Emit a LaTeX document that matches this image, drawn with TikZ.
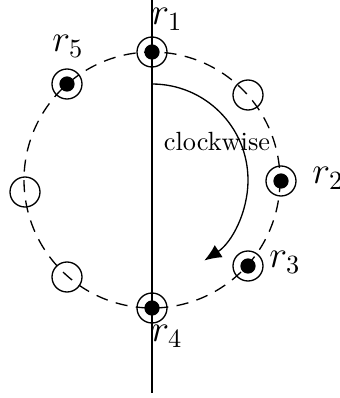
\documentclass[tikz,border=0pt]{standalone}
\usetikzlibrary{arrows.meta}
\begin{document}
\begin{tikzpicture}[x=0.38pt,y=-0.38pt,line width=0.5pt,
  ring/.style={circle,draw,inner sep=0pt,minimum size=11.4pt},
  dot/.style={circle,fill=black,inner sep=0pt,minimum size=5.8pt},
  lab/.style={inner sep=0pt,font=\Large},
  circ/.style={dash pattern=on 4.6pt off 3.2pt}]
\useasboundingbox (0,0) rectangle (340,398);
\coordinate (c) at (152,180);
\coordinate (top) at (152,0);
\coordinate (bot) at (152,393);
\coordinate (arcstart) at (152,84);
% dashed orbit
\draw[circ] (c) circle[radius=128];
% vertical axis
\draw (top) -- (bot);
% robots
\node[ring] (r1) at (152,52) {};
\node[ring] (e1) at (248,95) {};
\node[ring] (r2) at (281,181) {};
\node[ring] (r3) at (248,266) {};
\node[ring] (r4) at (152,308) {};
\node[ring] (e2) at (67,277) {};
\node[ring] (e3) at (25,192) {};
\node[ring] (r5) at (67,84) {};
\foreach \n in {r1,r2,r3,r4,r5} \node[dot] (d\n) at (\n) {};
% labels
\node[lab] (l1) at (167,19) {$r_1$};
\node[lab] (l5) at (68,46) {$r_5$};
\node[lab] (l2) at (328,178) {$r_2$};
\node[lab] (l3) at (285,262) {$r_3$};
\node[lab] (l4) at (167,336) {$r_4$};
% clockwise arrow
\draw[-{Latex[length=6.5pt,width=5.5pt]}] (arcstart) arc[start angle=-90,end angle=57,radius=96];
\node[inner sep=0pt] (cw) at (217,142) {clockwise};
\end{tikzpicture}
\end{document}
